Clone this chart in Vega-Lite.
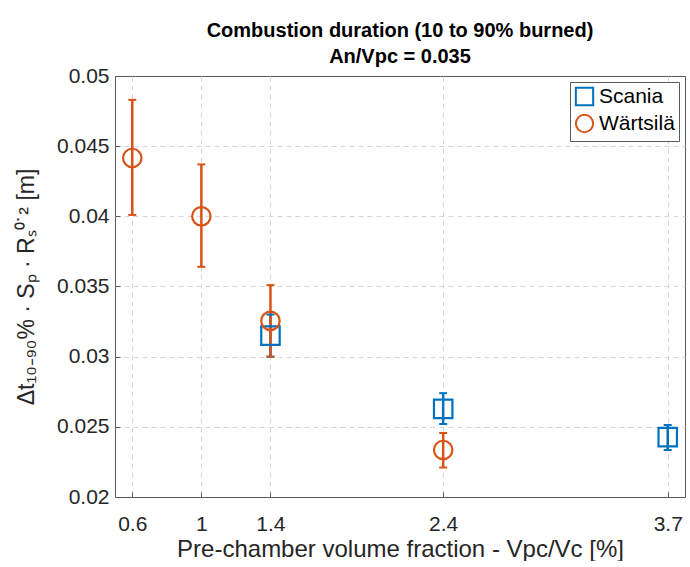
{
  "$schema": "https://vega.github.io/schema/vega-lite/v6.json",
  "width": 570,
  "height": 421,
  "padding": {"left": 15, "right": 2, "top": 21, "bottom": 0},
  "background": "white",
  "title": {
    "text": ["Combustion duration (10 to 90% burned)", "An/Vpc = 0.035"],
    "font": "Liberation Sans",
    "fontSize": 20,
    "fontWeight": "bold",
    "color": "#000000",
    "anchor": "middle",
    "lineHeight": 26,
    "offset": -2
  },
  "config": {
    "view": {"stroke": "#5a5a5a", "strokeWidth": 1},
    "axis": {
      "labelFont": "Liberation Sans",
      "titleFont": "Liberation Sans",
      "labelFontSize": 21,
      "titleFontSize": 23,
      "labelColor": "#262626",
      "titleColor": "#262626",
      "titleFontWeight": "normal",
      "gridColor": "#d6d6d6",
      "gridDash": [5, 4],
      "gridWidth": 1,
      "gridOpacity": {"condition": {"test": "datum.value == 0.05 || datum.value == 0.02", "value": 0}, "value": 1},
      "domain": false,
      "ticks": true,
      "tickColor": "#5a5a5a",
      "tickSize": -5
    },
    "legend": {
      "title": null,
      "orient": "top-right",
      "offset": 6,
      "labelFont": "Liberation Sans",
      "labelFontSize": 21,
      "labelColor": "#000000",
      "strokeColor": "#5a5a5a",
      "fillColor": "white",
      "padding": 4,
      "symbolSize": 300,
      "symbolStrokeWidth": 2,
      "symbolFillColor": "transparent",
      "rowPadding": 0,
      "labelOffset": 4
    }
  },
  "data": {
    "values": [
      {"engine": "Wärtsilä", "x": 0.6, "y": 0.04416, "lo": 0.0401, "hi": 0.0483},
      {"engine": "Wärtsilä", "x": 1.0, "y": 0.0400, "lo": 0.0364, "hi": 0.0437},
      {"engine": "Scania", "x": 1.4, "y": 0.0315, "lo": 0.0300, "hi": 0.0330},
      {"engine": "Wärtsilä", "x": 1.4, "y": 0.03255, "lo": 0.0300, "hi": 0.0351},
      {"engine": "Scania", "x": 2.4, "y": 0.02628, "lo": 0.0252, "hi": 0.0274},
      {"engine": "Wärtsilä", "x": 2.4, "y": 0.02335, "lo": 0.0221, "hi": 0.02456},
      {"engine": "Scania", "x": 3.7, "y": 0.02427, "lo": 0.02335, "hi": 0.02513}
    ]
  },
  "encoding": {
    "x": {
      "field": "x",
      "type": "quantitative",
      "scale": {"domain": [0.5, 3.8], "nice": false, "zero": false},
      "axis": {
        "values": [0.6, 1, 1.4, 2.4, 3.7],
        "format": "~g",
        "title": "Pre-chamber volume fraction - Vpc/Vc [%]",
        "titleFontSize": 24,
        "gridOpacity": 1,
        "labelPadding": 21,
        "titlePadding": 3
      }
    },
    "color": {
      "field": "engine",
      "type": "nominal",
      "scale": {"domain": ["Scania", "Wärtsilä"], "range": ["#0072BD", "#D95319"]}
    }
  },
  "layer": [
    {
      "mark": {"type": "rule", "strokeWidth": 2.5},
      "encoding": {
        "y": {
          "field": "lo",
          "type": "quantitative",
          "scale": {"domain": [0.02, 0.05], "nice": false, "zero": false},
          "axis": {
            "values": [0.02, 0.025, 0.03, 0.035, 0.04, 0.045, 0.05],
            "format": "~g",
            "title": "Δt₁₀₋₉₀% · Sₚ · Rₛ⁰˙² [m]",
            "titleFontSize": 23,
            "labelPadding": 11,
            "titlePadding": 18
          }
        },
        "y2": {"field": "hi"}
      }
    },
    {
      "mark": {"type": "point", "shape": "M-1,0H1", "filled": false, "size": 64, "strokeWidth": 2, "opacity": 1},
      "encoding": {"y": {"field": "lo", "type": "quantitative"}}
    },
    {
      "mark": {"type": "point", "shape": "M-1,0H1", "filled": false, "size": 64, "strokeWidth": 2, "opacity": 1},
      "encoding": {"y": {"field": "hi", "type": "quantitative"}}
    },
    {
      "mark": {"type": "point", "filled": false, "strokeWidth": 2.2, "opacity": 1, "size": 340},
      "encoding": {
        "y": {"field": "y", "type": "quantitative"},
        "shape": {
          "field": "engine",
          "type": "nominal",
          "scale": {"domain": ["Scania", "Wärtsilä"], "range": ["square", "circle"]}
        }
      }
    }
  ]
}
